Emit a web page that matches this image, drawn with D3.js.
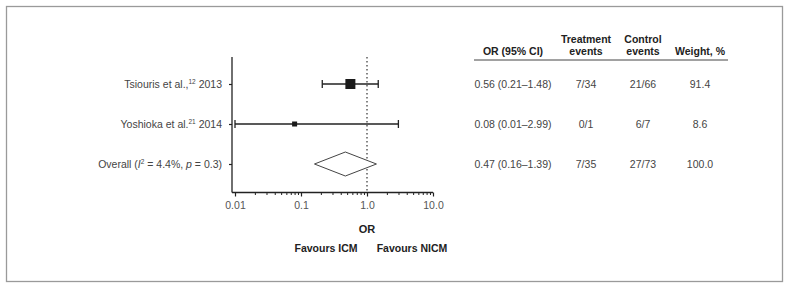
<!DOCTYPE html>
<html><head><meta charset="utf-8">
<script src="https://cdn.jsdelivr.net/npm/d3@7"></script>
<style>body{margin:0;background:#fff}svg{display:block}text{font-family:"Liberation Sans",Arial,Helvetica,sans-serif}</style>
</head><body><svg id="c" width="790" height="289"></svg>
<script>
const studies = ["Tsiouris", "Yoshioka", "Overall"];
const orValues = [0.56, 0.08, 0.47];
const ciLow = [0.21, 0.01, 0.16];
const ciHigh = [1.48, 2.99, 1.39];
const weights = [91.4, 8.6, 100.0];
const orText = ["0.56 (0.21–1.48)", "0.08 (0.01–2.99)", "0.47 (0.16–1.39)"];
const treatmentEvents = ["7/34", "0/1", "7/35"];
const controlEvents = ["21/66", "6/7", "27/73"];
const weightText = ["91.4", "8.6", "100.0"];
const xTicks = [0.01, 0.1, 1, 10];
const xTickLabels = ["0.01", "0.1", "1.0", "10.0"];

const svg = d3.select("#c");
svg.append("rect").attr("x",6.5).attr("y",6.5).attr("width",776).attr("height",275)
  .attr("fill","none").attr("stroke","#9a9a9a").attr("stroke-width",1.3);

const x = d3.scaleLog().domain([0.01,10]).range([235,433]);
const y = d3.scalePoint().domain(studies).range([84,164]);
const axisY = 192.5, axisTop = 57, axisLeft = 232;
const ink = "#222";

// axes
const minor = [];
[0.01,0.1,1].forEach(d=>{for(let k=2;k<=9;k++) minor.push(d*k);});
svg.append("line").attr("x1",axisLeft).attr("x2",axisLeft).attr("y1",axisTop).attr("y2",axisY).attr("stroke",ink).attr("stroke-width",1.3);
svg.append("line").attr("x1",axisLeft).attr("x2",x(10)).attr("y1",axisY).attr("y2",axisY).attr("stroke",ink).attr("stroke-width",1.3);
const gx = svg.append("g").attr("transform",`translate(0,${axisY})`)
  .call(d3.axisBottom(x).tickValues(xTicks).tickFormat((d,i)=>xTickLabels[i]).tickSize(4).tickPadding(5).tickSizeOuter(0));
gx.select(".domain").remove();
gx.selectAll(".tick line").attr("stroke",ink).attr("stroke-width",1.2);
gx.selectAll(".tick text").attr("fill","#555").attr("font-size",10.5).attr("font-family","Liberation Sans, Arial, sans-serif");
const gm = svg.append("g").attr("transform",`translate(0,${axisY})`)
  .call(d3.axisBottom(x).tickValues(minor).tickFormat("").tickSize(2.5).tickSizeOuter(0));
gm.select(".domain").remove();
gm.selectAll(".tick line").attr("stroke",ink).attr("stroke-width",1);

const gy = svg.append("g").attr("transform",`translate(${axisLeft},0)`)
  .call(d3.axisLeft(y).tickSize(3).tickFormat("").tickSizeOuter(0));
gy.select(".domain").remove();
gy.selectAll(".tick line").attr("stroke",ink).attr("stroke-width",1.2);

// reference line
svg.append("line").attr("x1",x(1)).attr("x2",x(1)).attr("y1",axisTop).attr("y2",axisY)
  .attr("stroke","#333").attr("stroke-width",1.2).attr("stroke-dasharray","1.5,2.5");

// study rows
const labels = [
  [{t:"Tsiouris et al.,"},{t:"12",sup:true},{t:" 2013"}],
  [{t:"Yoshioka et al."},{t:"21",sup:true},{t:" 2014"}],
  [{t:"Overall ("},{t:"I",it:true},{t:"2",sup:true},{t:" = 4.4%, "},{t:"p",it:true},{t:" = 0.3)"}]
];
labels.forEach((parts,i)=>{
  const t = svg.append("text").attr("x",222).attr("y",y(studies[i])+3.8).attr("text-anchor","end")
    .attr("font-size",10.5).attr("fill","#444");
  parts.forEach(p=>{
    const s = t.append("tspan").text(p.t);
    if(p.sup) s.attr("font-size",6.5).attr("baseline-shift","4");
    if(p.it) s.attr("font-style","italic");
  });
});

const maxW = d3.max(weights.slice(0,2));
const size = d3.scaleSqrt().domain([0,maxW]).range([0,10]);
[0,1].forEach(i=>{
  const cy = y(studies[i]);
  svg.append("line").attr("x1",x(ciLow[i])).attr("x2",x(ciHigh[i])).attr("y1",cy).attr("y2",cy).attr("stroke",ink).attr("stroke-width",1.3);
  [ciLow[i],ciHigh[i]].forEach(v=>svg.append("line").attr("x1",x(v)).attr("x2",x(v)).attr("y1",cy-4).attr("y2",cy+4).attr("stroke",ink).attr("stroke-width",1.3));
  const s = Math.max(5, size(weights[i]));
  svg.append("rect").attr("x",x(orValues[i])-s/2).attr("y",cy-s/2).attr("width",s).attr("height",s).attr("fill","#1a1a1a");
});
const oy = y("Overall");
svg.append("path").attr("d",`M${x(ciLow[2])},${oy}L${x(orValues[2])},${oy-12}L${x(ciHigh[2])},${oy}L${x(orValues[2])},${oy+12}Z`)
  .attr("fill","#fff").attr("stroke","#444").attr("stroke-width",1);

// axis titles
svg.append("text").attr("x",x(1)).attr("y",233).attr("text-anchor","middle").attr("font-size",11).attr("font-weight","bold").attr("fill",ink).text("OR");
svg.append("text").attr("x",326).attr("y",252).attr("text-anchor","middle").attr("font-size",10.5).attr("font-weight","bold").attr("fill",ink).text("Favours ICM");
svg.append("text").attr("x",412).attr("y",252).attr("text-anchor","middle").attr("font-size",10.5).attr("font-weight","bold").attr("fill",ink).text("Favours NICM");

// table
const cols = [
  {x:513, head:["OR (95% CI)"], vals:orText},
  {x:586, head:["Treatment","events"], vals:treatmentEvents},
  {x:643, head:["Control","events"], vals:controlEvents},
  {x:700, head:["Weight, %"], vals:weightText}
];
cols.forEach(c=>{
  const hl = c.head.length;
  c.head.forEach((h,j)=>{
    svg.append("text").attr("x",c.x).attr("y",55 - (hl-1-j)*12.5).attr("text-anchor","middle")
      .attr("font-size",10.5).attr("font-weight","bold").attr("fill",ink).text(h);
  });
  c.vals.forEach((v,i)=>{
    svg.append("text").attr("x",c.x).attr("y",y(studies[i])+3.8).attr("text-anchor","middle")
      .attr("font-size",10.5).attr("fill","#444").text(v);
  });
});
svg.append("line").attr("x1",474).attr("x2",728).attr("y1",60).attr("y2",60).attr("stroke","#444").attr("stroke-width",1);
</script></body></html>
